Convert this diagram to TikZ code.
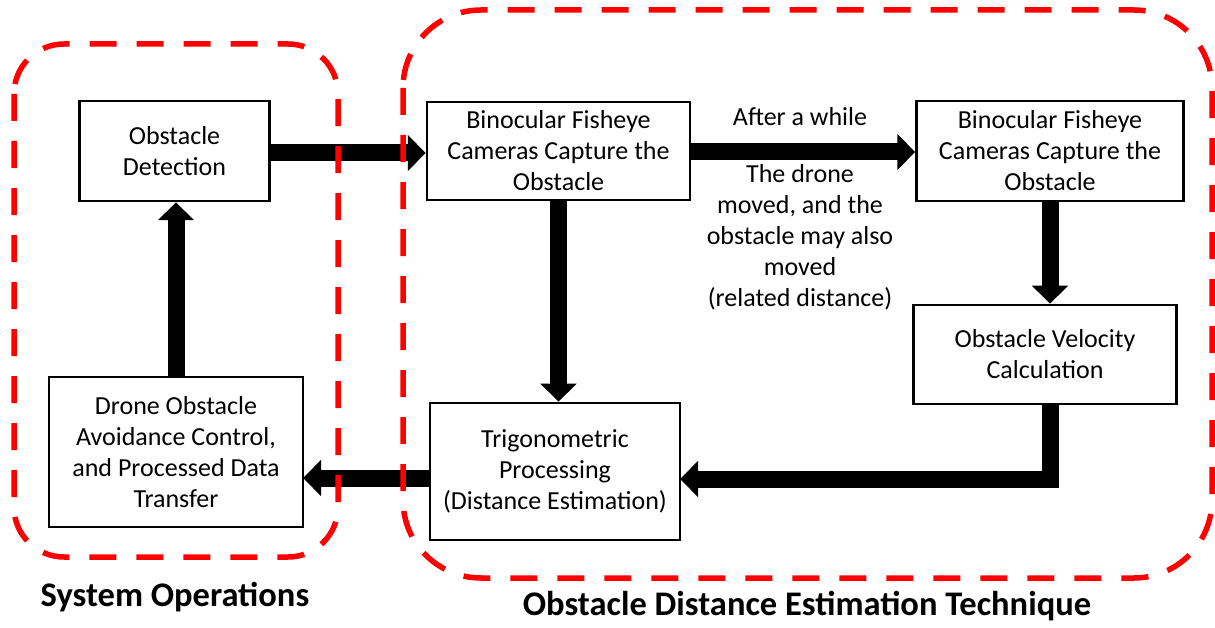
\documentclass[tikz,border=0pt]{standalone}
\usepackage{fontspec}
\setmainfont{Carlito}
\usetikzlibrary{arrows.meta}
\tikzset{
  box/.style={draw=black, line width=2.5bp, fill=white, align=center, inner sep=0pt,
    font=\fontsize{26bp}{31bp}\selectfont},
  lbl/.style={align=center, inner sep=0pt, font=\fontsize{26bp}{31bp}\selectfont},
  bigarrow/.style={line width=17bp, draw=black, line join=miter,
    -{Triangle[length=18bp,width=35bp]}},
  reddash/.style={draw=red, line width=5.5bp, dash pattern=on 27bp off 20bp},
  title/.style={inner sep=0pt, font=\fontsize{34.5bp}{40bp}\selectfont\bfseries}
}
\begin{document}
\begin{tikzpicture}[x=1bp,y=-1bp]
\useasboundingbox (0,0) rectangle (1215,628);
% boxes
\node[box, minimum width=190bp, minimum height=100bp] (obsdet) at (174.5,151) {Obstacle\\Detection};
\node[box, minimum width=263bp, minimum height=98bp] (bin1) at (558.5,151) {Binocular Fisheye\\Cameras Capture the\\Obstacle};
\node[box, minimum width=267bp, minimum height=100bp] (bin2) at (1050,151) {Binocular Fisheye\\Cameras Capture the\\Obstacle};
\node[box, minimum width=263bp, minimum height=99bp] (vel) at (1045,354.5) {Obstacle Velocity\\Calculation};
\node[box, minimum width=250bp, minimum height=137bp] (trig) at (555,471.5) {Trigonometric\\Processing\\(Distance Estimation)};
\node[box, minimum width=254bp, minimum height=150bp] (drone) at (176,452) {Drone Obstacle\\Avoidance Control,\\and Processed Data\\Transfer};
% labels
\node[lbl] (after) at (800,117) {After a while};
\node[lbl] (moved) at (800,237) {The drone\\moved, and the\\obstacle may also\\moved\\(related distance)};
% arrows
\coordinate (c1) at (1050,404);
\coordinate (c2) at (1050,479);
\coordinate (t1) at (680,479);
\coordinate (t2) at (430,478);
\coordinate (d1) at (303,478);
\draw[bigarrow] (obsdet.east |- 0,153) -- (bin1.west |- 0,153);
\draw[bigarrow] (bin1.east |- 0,152) -- (bin2.west |- 0,152);
\draw[bigarrow] (bin1.south) -- (bin1.south |- trig.north);
\draw[bigarrow] (bin2.south) -- (bin2.south |- vel.north);
\draw[bigarrow] (c1) -- (c2) -- (t1);
\draw[bigarrow] (t2) -- (d1);
\draw[bigarrow] (drone.north) -- (drone.north |- obsdet.south);
% dashed groups
\draw[reddash, rounded corners=50bp] (14,44) rectangle (338,557);
\draw[reddash, rounded corners=78bp] (403,10) rectangle (1212,578);
% titles
\node[title] (t_sys) at (175,597) {System Operations};
\node[title] (t_odt) at (807,606) {Obstacle Distance Estimation Technique};
\end{tikzpicture}
\end{document}
